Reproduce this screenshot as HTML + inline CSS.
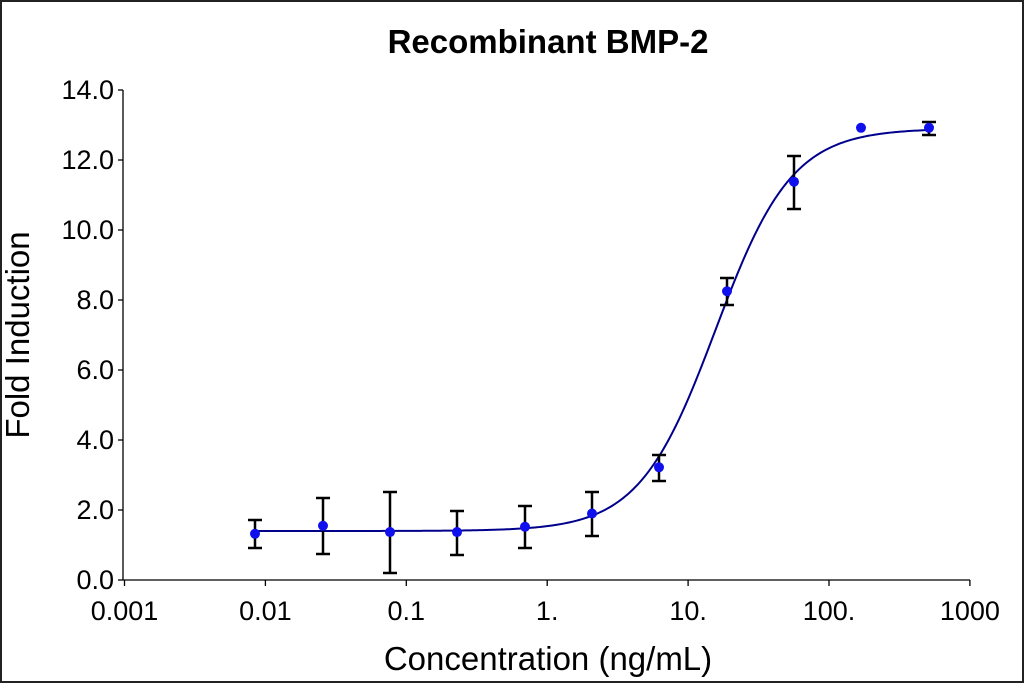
<!DOCTYPE html>
<html><head><meta charset="utf-8"><style>
html,body{margin:0;padding:0;background:#fff}
svg{display:block}
text{font-family:"Liberation Sans",Arial,sans-serif;fill:#000}
</style></head><body>
<svg id="s" width="1024" height="683" viewBox="0 0 1024 683" xmlns="http://www.w3.org/2000/svg">
<rect x="1" y="1" width="1022" height="681" fill="#fff" stroke="#222" stroke-width="2"/>
<text x="548" y="53" font-size="33" font-weight="bold" text-anchor="middle">Recombinant BMP-2</text>
<g stroke="#000" stroke-width="1.3" fill="none">
<line x1="123" y1="90" x2="123" y2="580"/>
<line x1="123" y1="580" x2="970" y2="580"/>
<g id="yt"></g><g id="xt"></g>
</g>
<g id="lbl" font-size="27"></g>
<text x="548" y="670" font-size="33" text-anchor="middle">Concentration (ng/mL)</text>
<text transform="translate(29,335) rotate(-90)" font-size="33" text-anchor="middle">Fold Induction</text>
<path id="curve" fill="none" stroke="#00008b" stroke-width="2"/>
<g id="err" stroke="#000" stroke-width="2.5" fill="none"></g>
<g id="pts" fill="#1010ee"></g>
</svg>
<script>
var NS="http://www.w3.org/2000/svg";
function el(p,t,a,txt){var e=document.createElementNS(NS,t);for(var k in a)e.setAttribute(k,a[k]);if(txt)e.textContent=txt;document.getElementById(p).appendChild(e);}
for(var i=0;i<=7;i++){var y=580-i*70;el("yt","line",{x1:118,y1:y,x2:123,y2:y});el("lbl","text",{x:114,y:y+9,"text-anchor":"end"},(i*2).toFixed(1));}
var xl=["0.001","0.01","0.1","1.","10.","100.","1000"];
for(var i=0;i<7;i++){var x=124.5+i*140.9;el("xt","line",{x1:x,y1:580,x2:x,y2:586});el("lbl","text",{x:x,y:620,"text-anchor":"middle"},xl[i]);}
var d="";for(var x=255;x<=929;x+=2){var lx=-3+(x-124.5)/140.9;var v=1.4+11.5/(1+Math.pow(10,1.6*(1.195-lx)));d+=(d?"L":"M")+x+","+(580-v*35).toFixed(2);}
document.getElementById("curve").setAttribute("d",d);
var P=[[255,1.32,520,548],[323,1.55,498,554],[390,1.37,492,573],[457,1.37,511,555],[525,1.52,506,548],[592,1.9,492,536],[659,3.22,455,481],[727,8.25,278,305],[794,11.38,156,209],[861,12.92,0,0],[929,12.92,122,135]];
P.forEach(function(p){if(p[2]){el("err","path",{d:"M"+p[0]+","+p[2]+"V"+p[3]+"M"+(p[0]-7)+","+p[2]+"h14M"+(p[0]-7)+","+p[3]+"h14"});}
el("pts","circle",{cx:p[0],cy:580-p[1]*35,r:5});});
</script>
</body></html>
